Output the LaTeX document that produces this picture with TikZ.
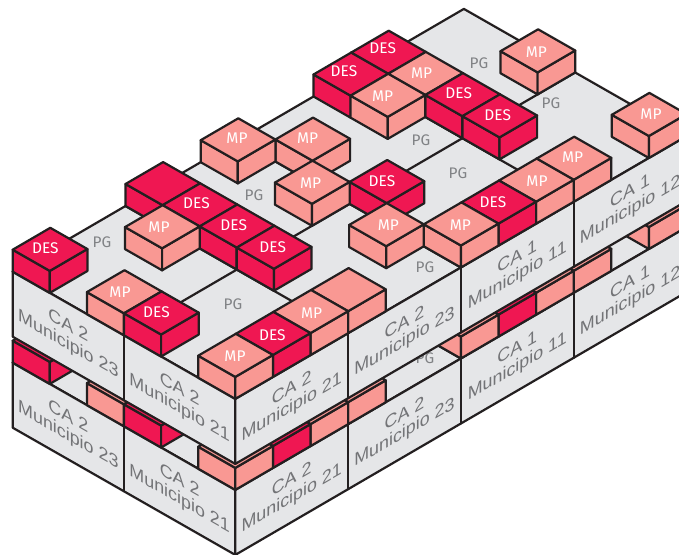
\documentclass[tikz,border=0pt]{standalone}
\usepackage{fontspec}
\setmainfont{Liberation Sans}
\newfontfamily\cubefont{Fira Sans}
\definecolor{inkc}{HTML}{231F20}
\definecolor{desc}{HTML}{EF1752}
\definecolor{mpc}{HTML}{F99893}
\definecolor{wallc}{HTML}{E5E6E8}
\definecolor{wallt}{HTML}{737477}
\definecolor{pgt}{HTML}{808285}
\tikzset{
  iso/.style={x={(27.825pt,-15.9pt)},y={(28.2pt,16.425pt)},z={(0pt,.75pt)}},
  edge/.style={draw=inkc,line width=1.65pt,line join=round,line cap=round},
  slab/.style={edge,fill=wallc},
  divide/.style={draw=inkc,line width=1.65pt,line cap=round},
  des/.style={fill=desc},
  mp/.style={fill=mpc},
  celltext/.style={text=white,font=\cubefont\fontsize{11.6}{12}\selectfont,inner sep=0pt},
  pgtext/.style={text=pgt,font=\cubefont\fontsize{11.5}{12}\selectfont,inner sep=0pt},
  walltext/.style={text=wallt,font=\fontsize{13.4}{13.9}\selectfont,align=center,inner sep=0pt,transform shape}
}
% one cube standing on cell (a,b)
\newcommand\onecube[3]{%
  \path[edge,#3] (#1,#2,22) -- (#1+1,#2,22) -- (#1+1,#2,0) -- (#1,#2,0) -- cycle;
  \path[edge,#3] (#1+1,#2,22) -- (#1+1,#2+1,22) -- (#1+1,#2+1,0) -- (#1+1,#2,0) -- cycle;
  \path[edge,#3] (#1,#2,22) -- (#1+1,#2,22) -- (#1+1,#2+1,22) -- (#1,#2+1,22) -- cycle;
}
\newcommand\walllabel[5]{%
  \begin{scope}[shift={#2},yslant=#3]
    \node[walltext] (#1) at (0,0) {#4\\#5};
  \end{scope}%
}
% one whole block: plate, walls, cubes; #1 prefixes the node names
\newcommand\wholeblock[1]{%
  \path[slab] (0,0,0) -- (6,0,0) -- (6,12,0) -- (0,12,0) -- cycle;
  \draw[divide] (3,0,0) -- (3,12,0);
  \draw[divide] (0,3,0) -- (6,3,0);
  \draw[divide] (0,6,0) -- (6,6,0);
  \draw[divide] (0,9,0) -- (6,9,0);
  \path[slab] (0,0,0) -- (6,0,0) -- (6,0,-65) -- (0,0,-65) -- cycle;
  \path[slab] (6,0,0) -- (6,12,0) -- (6,12,-65) -- (6,0,-65) -- cycle;
  \draw[divide] (3,0,0) -- (3,0,-65);
  \draw[divide] (6,3,0) -- (6,3,-65);
  \draw[divide] (6,6,0) -- (6,6,-65);
  \draw[divide] (6,9,0) -- (6,9,-65);
  \walllabel{#1la}{(1.5,0,-32.5)}{-0.572}{CA 2}{Municipio 23}
  \walllabel{#1lb}{(4.5,0,-32.5)}{-0.572}{CA 2}{Municipio 21}
  \walllabel{#1ra}{(6,1.5,-32.5)}{0.582}{CA 2}{Municipio 21}
  \walllabel{#1rb}{(6,4.5,-32.5)}{0.582}{CA 2}{Municipio 23}
  \walllabel{#1rc}{(6,7.5,-32.5)}{0.582}{CA 1}{Municipio 11}
  \walllabel{#1rd}{(6,10.5,-32.5)}{0.582}{CA 1}{Municipio 12}
}
\newcommand\allcubes{%
  \foreach \a/\b/\k in {2/11/mp,5/11/mp,
    0/9/des,1/9/mp,2/9/des,3/9/des,5/9/mp,
    0/8/des,1/8/mp,5/8/mp,
    5/7/des,
    1/6/mp,3/6/des,5/6/mp,
    0/5/mp,2/5/mp,4/5/mp,
    0/3/des,1/3/des,2/3/des,3/3/des,5/3/mp,
    1/2/mp,5/2/mp,
    5/1/des,
    0/0/des,2/0/mp,3/0/des,5/0/mp}{\onecube{\a}{\b}{\k}}%
}
\begin{document}
\begin{tikzpicture}[x=.75pt,y=-.75pt]
\useasboundingbox (0,0) rectangle (679,554);
\clip (0,0) rectangle (679,554);
% lower block
\begin{scope}[shift={(12.7,362.7)},iso]
  \wholeblock{lo}
\end{scope}
\node[pgtext] (lowpg) at (425,358) {PG};
\begin{scope}[shift={(12.7,362.7)},iso]
  \allcubes
\end{scope}
% upper block
\begin{scope}[shift={(12.7,271.7)},iso]
  \wholeblock{up}
\end{scope}
\foreach \n/\x/\y in {a/102/242,b/254/195,c/233/304,d/425/267,e/421/140,f/458/173,g/479/63,h/551/103}
  \node[pgtext] (pg\n) at (\x,\y) {PG};
\begin{scope}[shift={(12.7,271.7)},iso]
  \allcubes
\end{scope}
% cube labels
\foreach \n/\t/\x/\y in {
  la/DES/45.3/248, lb/MP/120/291.7, lc/DES/156.5/312.3, ld/MP/235/356.5,
  le/DES/272.3/335, lf/MP/311.7/312.7, lg/MP/159/227, lh/DES/196.5/203.5,
  li/DES/233.7/225, lj/DES/272.7/246.7, lk/MP/237/138.5, ll/MP/307.7/138,
  lm/MP/310.7/182.7, ln/DES/382/181, lo/DES/344/70.7, lp/DES/382.7/48.3,
  lq/MP/382.7/95.7, lr/MP/421.7/73.3, ls/DES/458.7/93.3, lt/DES/497.7/115,
  lu/MP/536.3/51.7, lv/MP/651/114.3, lw/MP/572.7/157.3, lx/MP/537/181,
  ly/DES/493/202.3, lz/MP/460.3/225, lza/MP/388.3/225}
  \node[celltext] (\n) at (\x,\y) {\t};
\end{tikzpicture}
\end{document}
